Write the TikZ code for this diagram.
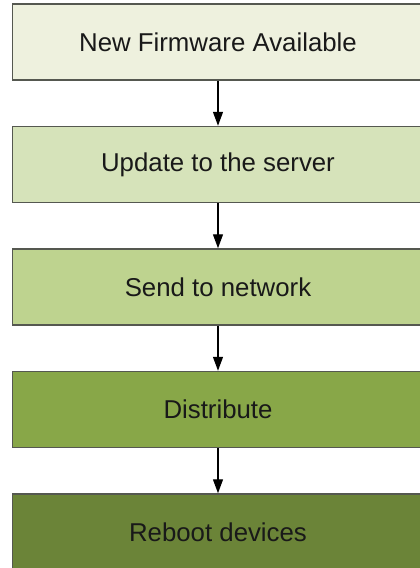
\documentclass[tikz,border=0pt]{standalone}
\usepackage{fontspec}
\setmainfont{Liberation Sans}
\usetikzlibrary{arrows.meta}
\definecolor{stepA}{RGB}{238,241,222}
\definecolor{stepB}{RGB}{214,227,186}
\definecolor{stepC}{RGB}{190,211,143}
\definecolor{stepD}{RGB}{136,167,72}
\definecolor{stepE}{RGB}{107,132,56}
\definecolor{edgegray}{RGB}{85,88,80}
\tikzset{
  stepbox/.style={draw=edgegray, line width=1.5pt, rectangle,
    minimum width=411.5pt, minimum height=76pt, inner sep=0pt,
    font=\fontsize{25.8}{28}\selectfont, text=black!90},
  flow/.style={line width=1.3pt, -{Triangle[length=14pt,width=10pt]}}
}
\begin{document}
\begin{tikzpicture}[x=1pt,y=-1pt]
  \useasboundingbox (0,0) rectangle (420,568);
  \clip (0,0) rectangle (420,568);
  \fill[white] (0,0) rectangle (420,568);
  \node[stepbox, fill=stepA] (s1) at (218,42)    {New Firmware Available};
  \node[stepbox, fill=stepB] (s2) at (218,164.5) {Update to the server};
  \node[stepbox, fill=stepC] (s3) at (218,287)   {Send to network};
  \node[stepbox, fill=stepD] (s4) at (218,409.5) {Distribute};
  \node[stepbox, fill=stepE] (s5) at (218,532)   {Reboot devices};
  \draw[flow] (s1.south) -- (s2.north);
  \draw[flow] (s2.south) -- (s3.north);
  \draw[flow] (s3.south) -- (s4.north);
  \draw[flow] (s4.south) -- (s5.north);
\end{tikzpicture}
\end{document}
